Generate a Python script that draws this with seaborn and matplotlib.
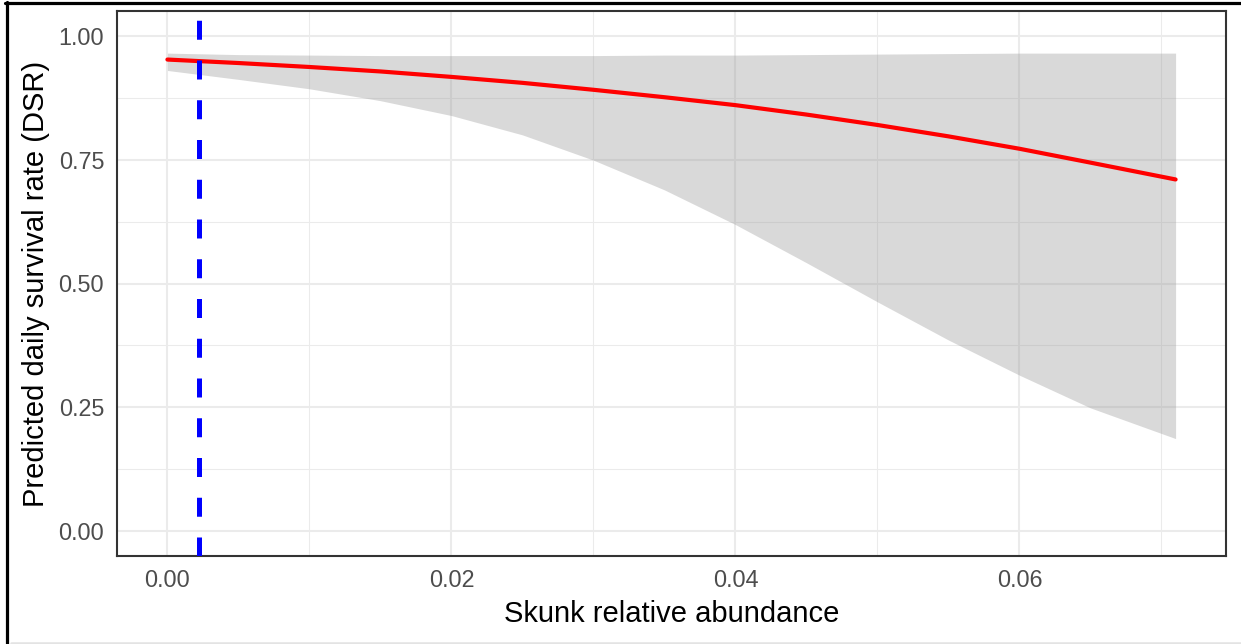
import numpy as np
import pandas as pd
import matplotlib
matplotlib.use("Agg")
import matplotlib.pyplot as plt
from matplotlib.lines import Line2D
from matplotlib.ticker import MultipleLocator
import seaborn as sns

# ---- data ----
skunk = [0.0, 0.005, 0.01, 0.015, 0.02, 0.025, 0.03, 0.035, 0.04,
         0.045, 0.05, 0.055, 0.06, 0.065, 0.071]
dsr_fit = [0.952, 0.945, 0.937, 0.928, 0.917, 0.905, 0.891, 0.876, 0.860,
           0.841, 0.820, 0.797, 0.772, 0.744, 0.710]
dsr_lower = [0.930, 0.912, 0.893, 0.869, 0.839, 0.800, 0.749, 0.689, 0.619,
             0.542, 0.463, 0.386, 0.315, 0.249, 0.187]
dsr_upper = [0.965, 0.962, 0.961, 0.960, 0.960, 0.960, 0.960, 0.961, 0.961,
             0.962, 0.963, 0.964, 0.965, 0.965, 0.965]
mean_skunk = 0.0022
x_ticks = [0.00, 0.02, 0.04, 0.06]
x_tick_labels = ["0.00", "0.02", "0.04", "0.06"]
y_ticks = [0.00, 0.25, 0.50, 0.75, 1.00]
y_tick_labels = ["0.00", "0.25", "0.50", "0.75", "1.00"]

df = pd.DataFrame({"skunk": skunk, "fit": dsr_fit,
                   "lower": dsr_lower, "upper": dsr_upper})

sns.set_style("white")
plt.rcParams["font.family"] = ["Liberation Sans", "DejaVu Sans"]

W, H = 1241, 644
fig = plt.figure(figsize=(W / 100, H / 100), dpi=100)
fig.patch.set_facecolor("white")

# panel in pixel coords
pl, pr, pt, pb = 117, 1226, 11, 556
ax = fig.add_axes([pl / W, (H - pb) / H, (pr - pl) / W, (pb - pt) / H])
ax.set_facecolor("white")

# limits (ggplot 5% expansion)
xmin, xmax = 0.0, 0.071
ax.set_xlim(xmin - 0.05 * (xmax - xmin), xmax + 0.05 * (xmax - xmin))
ax.set_ylim(-0.05, 1.05)

# grid
ax.xaxis.set_major_locator(plt.FixedLocator(x_ticks))
ax.xaxis.set_minor_locator(MultipleLocator(0.01))
ax.yaxis.set_major_locator(plt.FixedLocator(y_ticks))
ax.yaxis.set_minor_locator(MultipleLocator(0.125))
ax.set_axisbelow(True)
ax.grid(which="major", color="#EBEBEB", linewidth=1.45)
ax.grid(which="minor", color="#EBEBEB", linewidth=0.75)

# ribbon
ax.fill_between(df["skunk"], df["lower"], df["upper"],
                color="#999999", alpha=0.37, linewidth=0, zorder=2)
# fitted line
sns.lineplot(data=df, x="skunk", y="fit", ax=ax, color="#FF0000",
             linewidth=3.0, zorder=3, legend=False)
# mean skunk abundance
ax.axvline(mean_skunk, color="#0000FF", linewidth=3.6,
           dashes=(3.8, 4.15), zorder=4)

ax.set_xticks(x_ticks)
ax.set_xticklabels(x_tick_labels)
ax.set_yticks(y_ticks)
ax.set_yticklabels(y_tick_labels)
ax.tick_params(axis="both", which="major", length=5.2, width=1.0,
               color="#333333", labelsize=16.8, labelcolor="#4D4D4D", pad=4.0)
ax.tick_params(axis="both", which="minor", length=0)

ax.set_xlabel("Skunk relative abundance", fontsize=21, color="black", labelpad=6)
ax.set_ylabel("Predicted daily survival rate (DSR)", fontsize=21,
              color="black", labelpad=6)

for s in ax.spines.values():
    s.set_visible(True)
    s.set_color("#333333")
    s.set_linewidth(1.5)

# outer screenshot frame: top and left black lines, light bottom line
fig.add_artist(Line2D([5 / W, 1.0], [1 - 2.8 / H, 1 - 2.8 / H],
                      transform=fig.transFigure, color="black", linewidth=2.3))
fig.add_artist(Line2D([6.5 / W, 6.5 / W], [0.0, 1 - 1.5 / H],
                      transform=fig.transFigure, color="black", linewidth=2.3))
fig.add_artist(Line2D([11 / W, 1.0], [1.2 / H, 1.2 / H],
                      transform=fig.transFigure, color="#E3E3E3", linewidth=1.8))

fig.savefig("out.png", dpi=100, facecolor="white")
